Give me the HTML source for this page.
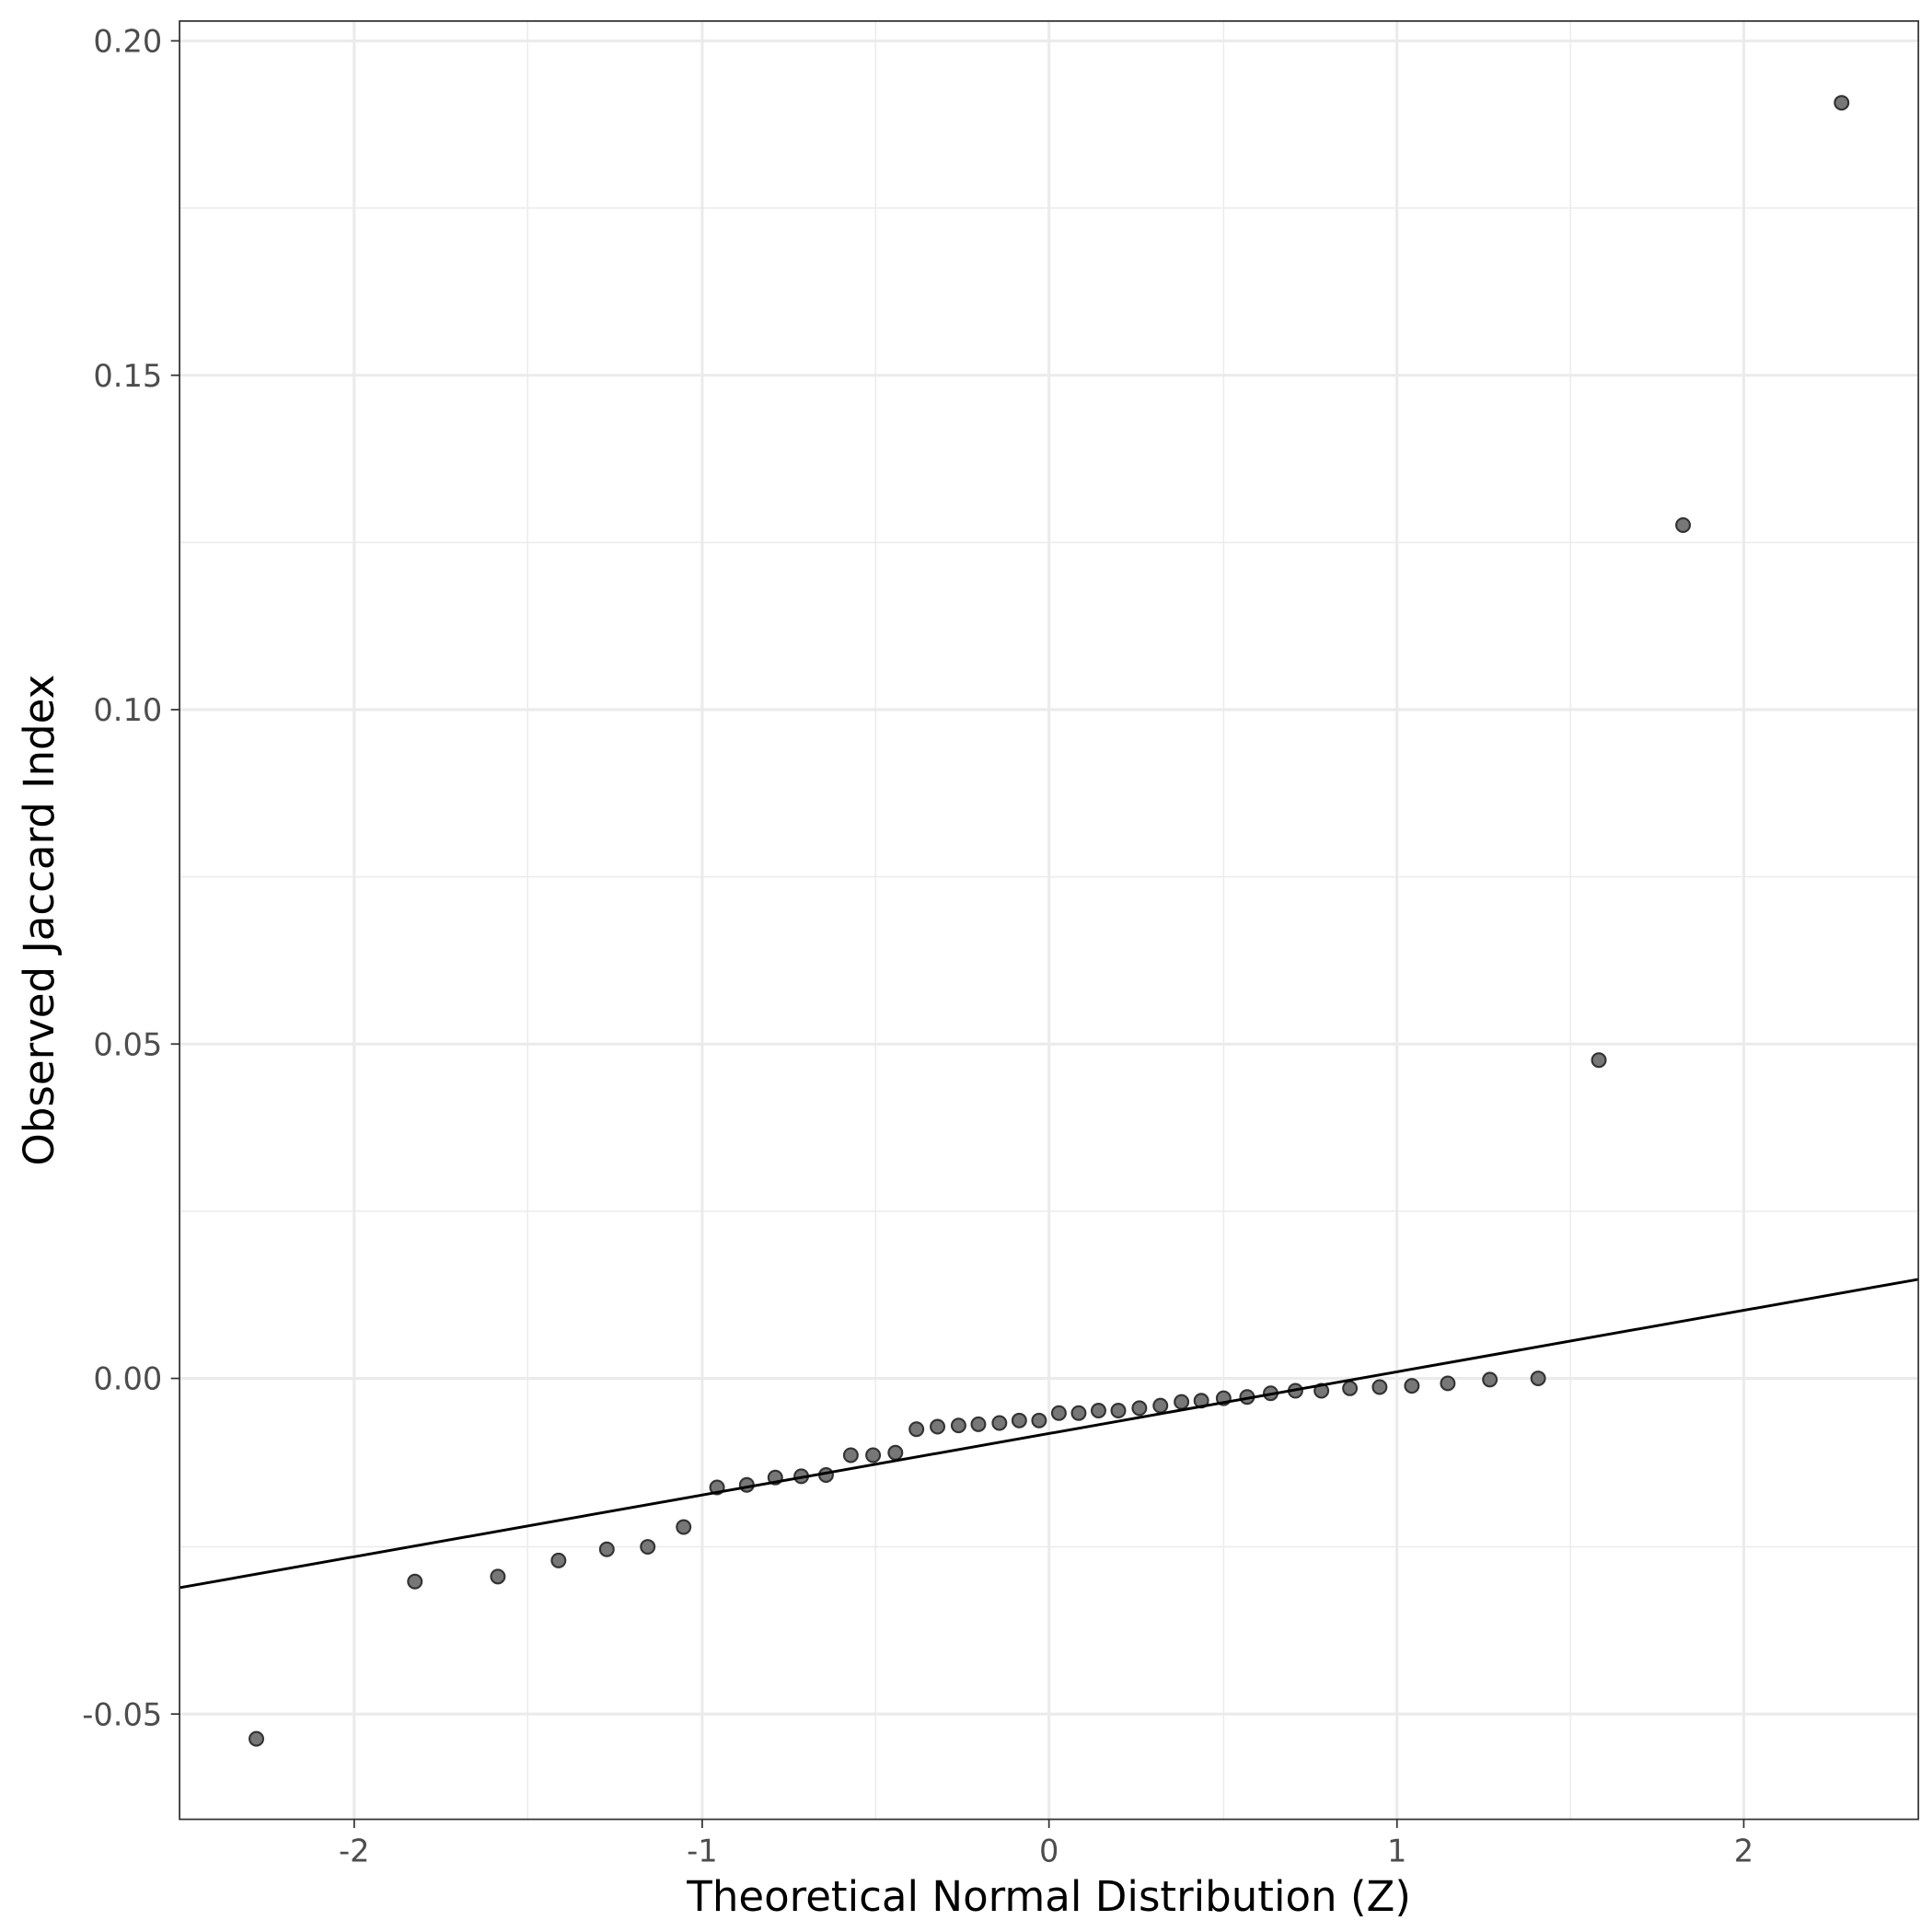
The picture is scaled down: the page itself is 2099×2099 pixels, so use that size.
<!DOCTYPE html>
<html><head><meta charset="utf-8"><style>html,body{margin:0;padding:0;background:#fff}svg{display:block}</style></head>
<body>
<svg width="2099" height="2099" viewBox="0 0 1560 1560" xmlns="http://www.w3.org/2000/svg" font-family="'DejaVu Sans','Liberation Sans',sans-serif">
<rect width="1560" height="1560" fill="#fff"/>
<g stroke="#ebebeb" stroke-width="1.1">
<line x1="426" y1="17" x2="426" y2="1469"/><line x1="707" y1="17" x2="707" y2="1469"/>
<line x1="988" y1="17" x2="988" y2="1469"/><line x1="1268" y1="17" x2="1268" y2="1469"/>
<line x1="145" y1="168" x2="1549" y2="168"/><line x1="145" y1="438" x2="1549" y2="438"/>
<line x1="145" y1="708" x2="1549" y2="708"/><line x1="145" y1="978" x2="1549" y2="978"/>
<line x1="145" y1="1249" x2="1549" y2="1249"/>
</g>
<g stroke="#ebebeb" stroke-width="2.3">
<line x1="286" y1="17" x2="286" y2="1469"/><line x1="567" y1="17" x2="567" y2="1469"/>
<line x1="847" y1="17" x2="847" y2="1469"/><line x1="1128" y1="17" x2="1128" y2="1469"/>
<line x1="1408" y1="17" x2="1408" y2="1469"/>
<line x1="145" y1="33" x2="1549" y2="33"/><line x1="145" y1="303" x2="1549" y2="303"/>
<line x1="145" y1="573" x2="1549" y2="573"/><line x1="145" y1="843" x2="1549" y2="843"/>
<line x1="145" y1="1113" x2="1549" y2="1113"/><line x1="145" y1="1384" x2="1549" y2="1384"/>
</g>
<g fill="#777" stroke="#333" stroke-width="1.6">
<circle cx="207" cy="1404" r="5.5"/><circle cx="335" cy="1277" r="5.5"/><circle cx="402" cy="1273" r="5.5"/><circle cx="451" cy="1260" r="5.5"/><circle cx="490" cy="1251" r="5.5"/><circle cx="523" cy="1249" r="5.5"/><circle cx="552" cy="1233" r="5.5"/><circle cx="579" cy="1201" r="5.5"/><circle cx="603" cy="1199" r="5.5"/><circle cx="626" cy="1193" r="5.5"/><circle cx="647" cy="1192" r="5.5"/><circle cx="667" cy="1191" r="5.5"/><circle cx="687" cy="1175" r="5.5"/><circle cx="705" cy="1175" r="5.5"/><circle cx="723" cy="1173" r="5.5"/><circle cx="740" cy="1154" r="5.5"/><circle cx="757" cy="1152" r="5.5"/><circle cx="774" cy="1151" r="5.5"/><circle cx="790" cy="1150" r="5.5"/><circle cx="807" cy="1149" r="5.5"/><circle cx="823" cy="1147" r="5.5"/><circle cx="839" cy="1147" r="5.5"/><circle cx="855" cy="1141" r="5.5"/><circle cx="871" cy="1141" r="5.5"/><circle cx="887" cy="1139" r="5.5"/><circle cx="903" cy="1139" r="5.5"/><circle cx="920" cy="1137" r="5.5"/><circle cx="937" cy="1135" r="5.5"/><circle cx="954" cy="1132" r="5.5"/><circle cx="970" cy="1131" r="5.5"/><circle cx="988" cy="1129" r="5.5"/><circle cx="1007" cy="1128" r="5.5"/><circle cx="1026" cy="1125" r="5.5"/><circle cx="1046" cy="1123" r="5.5"/><circle cx="1067" cy="1123" r="5.5"/><circle cx="1090" cy="1121" r="5.5"/><circle cx="1114" cy="1120" r="5.5"/><circle cx="1140" cy="1119" r="5.5"/><circle cx="1169" cy="1117" r="5.5"/><circle cx="1203" cy="1114" r="5.5"/><circle cx="1242" cy="1113" r="5.5"/><circle cx="1291" cy="856" r="5.5"/><circle cx="1359" cy="424" r="5.5"/><circle cx="1487" cy="83" r="5.5"/>
</g>
<line x1="145" y1="1282" x2="1549" y2="1033" stroke="#000" stroke-width="2.2"/>
<rect x="145" y="17" width="1404" height="1452" fill="none" stroke="#333" stroke-width="1.3"/>
<g stroke="#333" stroke-width="1.3">
<line x1="286" y1="1469" x2="286" y2="1476"/><line x1="567" y1="1469" x2="567" y2="1476"/><line x1="847" y1="1469" x2="847" y2="1476"/><line x1="1128" y1="1469" x2="1128" y2="1476"/><line x1="1408" y1="1469" x2="1408" y2="1476"/>
<line x1="138" y1="33" x2="145" y2="33"/><line x1="138" y1="303" x2="145" y2="303"/><line x1="138" y1="573" x2="145" y2="573"/><line x1="138" y1="843" x2="145" y2="843"/><line x1="138" y1="1113" x2="145" y2="1113"/><line x1="138" y1="1384" x2="145" y2="1384"/>
</g>
<g fill="#4d4d4d" font-size="25" text-anchor="middle">
<text x="286" y="1503">-2</text><text x="567" y="1503">-1</text><text x="847" y="1503">0</text><text x="1128" y="1503">1</text><text x="1408" y="1503">2</text>
</g>
<g fill="#4d4d4d" font-size="25" text-anchor="end">
<text x="131" y="42">0.20</text><text x="131" y="312">0.15</text><text x="131" y="582">0.10</text><text x="131" y="852">0.05</text><text x="131" y="1122">0.00</text><text x="131" y="1393">-0.05</text>
</g>
<text x="847" y="1543" font-size="33.5" text-anchor="middle" fill="#000">Theoretical Normal Distribution (Z)</text>
<text transform="translate(43,743) rotate(-90)" font-size="33.5" text-anchor="middle" fill="#000">Observed Jaccard Index</text>
</svg>
</body></html>
